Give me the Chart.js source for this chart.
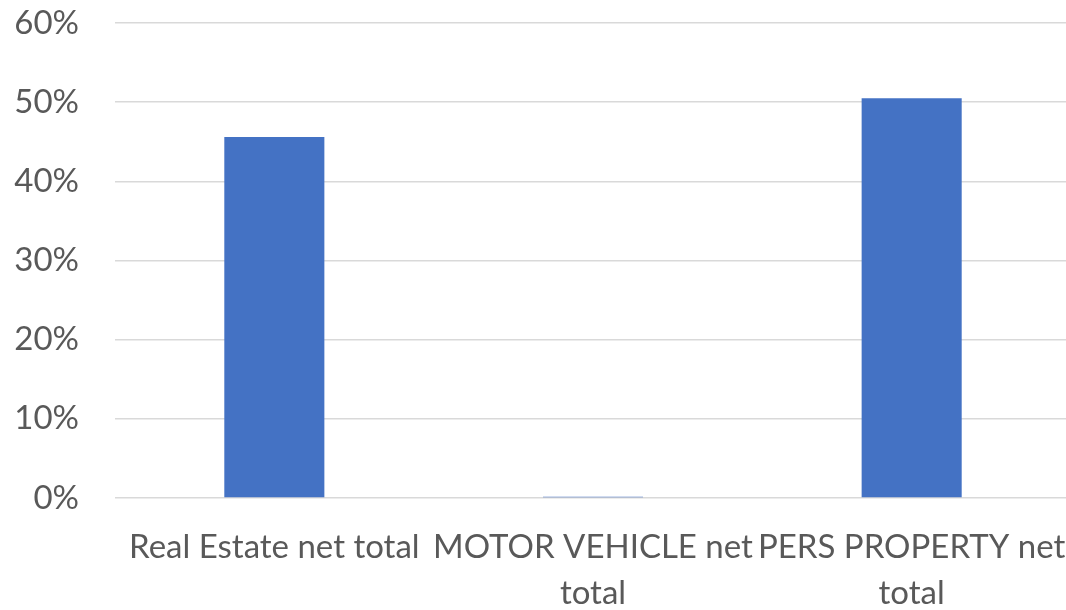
<!DOCTYPE html>
<html>
<head>
<meta charset="utf-8">
<script src="https://cdn.jsdelivr.net/npm/chart.js@4"></script>
<style>
	html, body { margin: 0; padding: 0; background: #fff; overflow: hidden; }
	#wrap { width: 1071px; height: 610px; }
</style>
</head>
<body>
<div id="wrap"><canvas id="chart" width="1071" height="610"></canvas></div>
<script>
// Datos
const categories = [
	'Real Estate net total',
	['MOTOR VEHICLE net', 'total'],
	['PERS PROPERTY net', 'total'],
];
const shares = [45.6, 0.15, 50.5];
const yTicks = [0, 10, 20, 30, 40, 50, 60];

const textColor = '#595959';
const gridColor = '#D9D9D9';

const ctx = document.getElementById('chart').getContext('2d');

new Chart(ctx, {
	type: 'bar',
	data: {
		labels: categories,
		datasets: [
			{
				data: shares,
				backgroundColor: '#4472C4',
				borderWidth: 0,
				categoryPercentage: 1,
				barPercentage: 0.314,
			},
		],
	},
	options: {
		responsive: false,
		animation: false,
		layout: { padding: { top: 23, right: 0, left: 0, bottom: 0 } },
		plugins: {
			legend: { display: false },
			tooltip: { enabled: false },
		},
		scales: {
			x: {
				grid: { display: false, drawTicks: false },
				border: { display: false },
				ticks: {
					color: textColor,
					padding: 27,
					maxRotation: 0,
					autoSkip: false,
					font: { family: 'Lato', size: 33, lineHeight: 1.38 },
				},
				afterFit: (scale) => {
					scale.height = 112;
					scale.paddingLeft = 0;
					scale.paddingRight = 0;
				},
			},
			y: {
				min: 0,
				max: 60,
				afterBuildTicks: (scale) => {
					scale.ticks = yTicks.map((v) => ({ value: v }));
				},
				grid: { color: gridColor, lineWidth: 1.5, drawTicks: false },
				border: { display: false },
				ticks: {
					color: textColor,
					padding: 36,
					font: { family: 'Lato', size: 33 },
					callback: (v) => v + '%',
				},
				afterFit: (scale) => {
					scale.width = 115;
					scale.paddingTop = 0;
					scale.paddingBottom = 0;
				},
			},
		},
	},
});
</script>
</body>
</html>
